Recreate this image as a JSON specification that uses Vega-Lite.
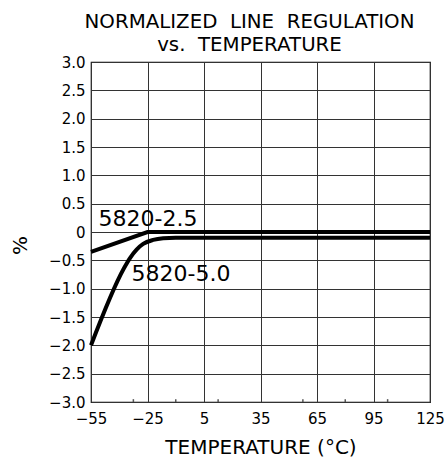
{
  "$schema": "https://vega.github.io/schema/vega-lite/v6.json",
  "width": 339,
  "height": 340,
  "autosize": {"type": "none"},
  "padding": {"left": 91, "top": 62, "right": 15, "bottom": 55},
  "background": "white",
  "title": {
    "text": ["NORMALIZED\u00a0 LINE\u00a0 REGULATION", "vs.\u00a0 TEMPERATURE"],
    "fontSize": 19.8,
    "fontWeight": "normal",
    "font": "DejaVu Sans",
    "color": "black",
    "anchor": "middle",
    "dx": -11,
    "lineHeight": 23,
    "offset": 0
  },
  "config": {
    "font": "DejaVu Sans",
    "view": {"stroke": "black", "strokeWidth": 1.2},
    "axis": {
      "grid": true,
      "gridColor": "#333333",
      "gridWidth": 1,
      "gridOpacity": 1,
      "domain": false,
      "ticks": false,
      "tickSize": 0,
      "labelOverlap": false,
      "labelFlush": false,
      "labelBound": false,
      "labelFont": "DejaVu Sans",
      "labelFontSize": 15,
      "labelColor": "black",
      "titleFont": "DejaVu Sans",
      "titleFontSize": 20,
      "titleFontWeight": "normal",
      "titleColor": "black"
    }
  },
  "datasets": {
    "curves": [
      {"temp": -55, "value": -0.35, "series": "5820-2.5"},
      {"temp": -25, "value": 0.0, "series": "5820-2.5"},
      {"temp": 125, "value": 0.0, "series": "5820-2.5"},
      {"temp": -55, "value": -2.0, "series": "5820-5.0"},
      {"temp": -37.5, "value": -0.64, "series": "5820-5.0"},
      {"temp": -34.3, "value": -0.46, "series": "5820-5.0"},
      {"temp": -30.8, "value": -0.31, "series": "5820-5.0"},
      {"temp": -27.3, "value": -0.21, "series": "5820-5.0"},
      {"temp": -22, "value": -0.14, "series": "5820-5.0"},
      {"temp": -16.7, "value": -0.11, "series": "5820-5.0"},
      {"temp": -10, "value": -0.1, "series": "5820-5.0"},
      {"temp": 125, "value": -0.1, "series": "5820-5.0"}
    ],
    "labels": [
      {"temp": -51, "value": 0.1, "label": "5820-2.5"},
      {"temp": -33.5, "value": -0.87, "label": "5820-5.0"}
    ],
    "minor": [
      {"temp": -32.5}, {"temp": -10}, {"temp": 12.5}, {"temp": 57.5}, {"temp": 80}, {"temp": 102.5}
    ]
  },
  "layer": [
    {
      "data": {"name": "curves"},
      "transform": [{"filter": "datum.series == '5820-2.5'"}],
      "mark": {"type": "line", "color": "black", "strokeWidth": 4, "interpolate": "linear"},
      "encoding": {
        "x": {"field": "temp", "type": "quantitative", "scale": {"domain": [-55, 125], "nice": false, "zero": false},
          "axis": {"values": [-55, -25, 5, 35, 65, 95, 125], "tickCount": 20, "labelPadding": 9, "title": "TEMPERATURE (°C)", "titlePadding": 11}},
        "y": {"field": "value", "type": "quantitative", "scale": {"domain": [-3, 3], "nice": false, "zero": false},
          "axis": {"values": [-3, -2.5, -2, -1.5, -1, -0.5, 0, 0.5, 1, 1.5, 2, 2.5, 3], "tickCount": 20, "labelPadding": 6,
            "labelExpr": "datum.value == 0 ? '0' : format(datum.value, '.1f')",
            "title": "%", "titleAngle": -90, "titleX": -71, "titleY": 183, "titleAlign": "center", "titleBaseline": "middle"}}
      }
    },
    {
      "data": {"name": "minor"},
      "mark": {"type": "rule", "color": "#555555", "strokeWidth": 1.5},
      "encoding": {
        "x": {"field": "temp", "type": "quantitative"},
        "y": {"datum": -3, "type": "quantitative"},
        "y2": {"datum": -2.95}
      }
    },
    {
      "data": {"name": "curves"},
      "transform": [{"filter": "datum.series == '5820-5.0'"}],
      "mark": {"type": "line", "color": "black", "strokeWidth": 4, "interpolate": "monotone"},
      "encoding": {
        "x": {"field": "temp", "type": "quantitative"},
        "y": {"field": "value", "type": "quantitative"}
      }
    },
    {
      "data": {"name": "labels"},
      "mark": {"type": "text", "fontSize": 22, "font": "DejaVu Sans", "align": "left", "baseline": "alphabetic", "color": "black"},
      "encoding": {
        "x": {"field": "temp", "type": "quantitative"},
        "y": {"field": "value", "type": "quantitative"},
        "text": {"field": "label"}
      }
    }
  ]
}
